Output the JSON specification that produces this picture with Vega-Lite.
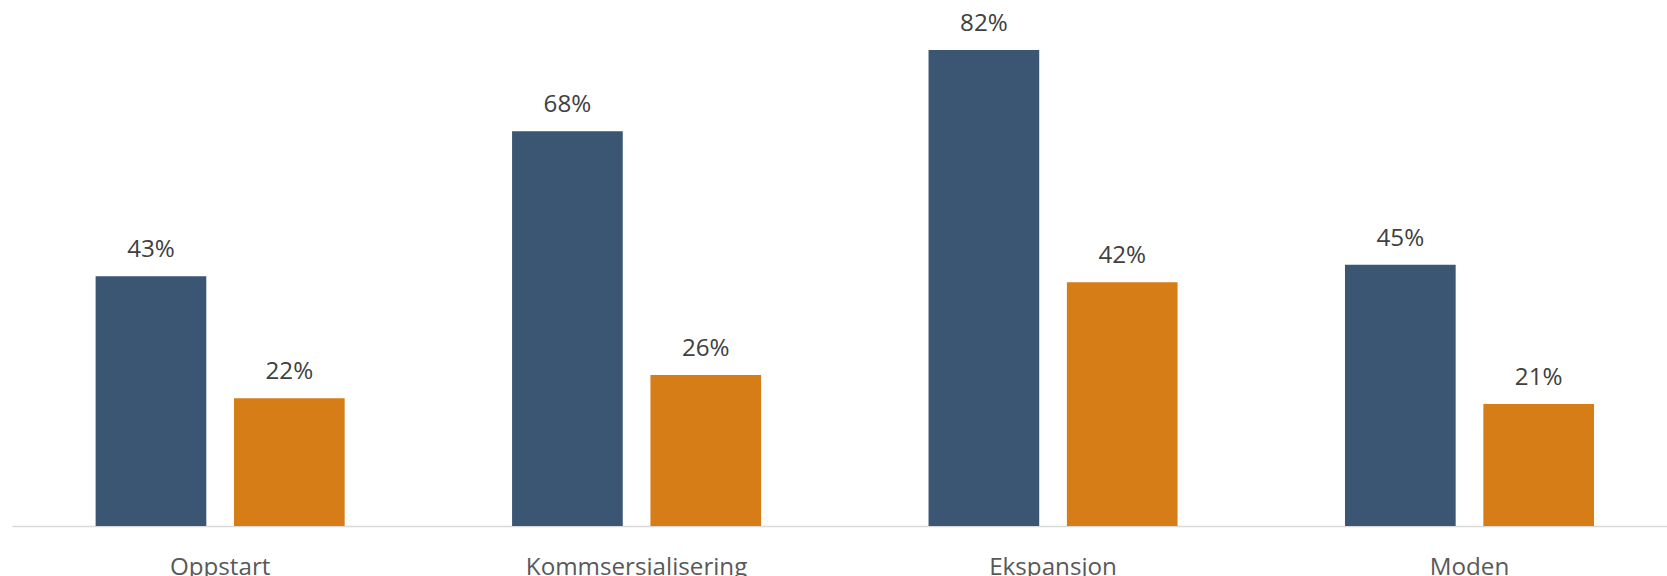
{
  "$schema": "https://vega.github.io/schema/vega-lite/v6.json",
  "width": 1655,
  "height": 526,
  "autosize": {"type": "none"},
  "padding": {"left": 12, "top": 0, "right": 0, "bottom": 50},
  "background": "white",
  "config": {"view": {"stroke": null}, "font": "Open Sans"},
  "data": {
    "values": [
      {"fase": "Oppstart", "serie": "1", "verdi": 0.43},
      {"fase": "Oppstart", "serie": "2", "verdi": 0.22},
      {"fase": "Kommsersialisering", "serie": "1", "verdi": 0.68},
      {"fase": "Kommsersialisering", "serie": "2", "verdi": 0.26},
      {"fase": "Ekspansjon", "serie": "1", "verdi": 0.82},
      {"fase": "Ekspansjon", "serie": "2", "verdi": 0.42},
      {"fase": "Moden", "serie": "1", "verdi": 0.45},
      {"fase": "Moden", "serie": "2", "verdi": 0.21}
    ]
  },
  "encoding": {
    "x": {
      "field": "fase",
      "type": "nominal",
      "sort": null,
      "scale": {"paddingInner": 0.402, "paddingOuter": 0.188, "align": 0.534},
      "axis": {
        "title": null,
        "labelAngle": 0,
        "ticks": false,
        "domainColor": "#D9D9D9",
        "domainWidth": 1.5,
        "labelFont": "Open Sans",
        "labelFontSize": 24.2,
        "labelColor": "#595959",
        "labelBaseline": "alphabetic",
        "labelPadding": 48,
        "labelLimit": 0
      }
    },
    "xOffset": {"field": "serie", "type": "nominal", "scale": {"paddingInner": 0.2}},
    "y": {
      "field": "verdi",
      "type": "quantitative",
      "scale": {"domain": [0, 0.906], "nice": false},
      "axis": null
    }
  },
  "layer": [
    {
      "mark": {"type": "bar"},
      "encoding": {
        "color": {
          "field": "serie",
          "type": "nominal",
          "scale": {"domain": ["1", "2"], "range": ["#3A5673", "#D67D17"]},
          "legend": null
        }
      }
    },
    {
      "mark": {"type": "text", "baseline": "alphabetic", "dy": -19, "font": "Open Sans", "fontSize": 24.2, "color": "#404040"},
      "encoding": {
        "text": {"field": "verdi", "type": "quantitative", "format": ".0%"}
      }
    }
  ]
}
